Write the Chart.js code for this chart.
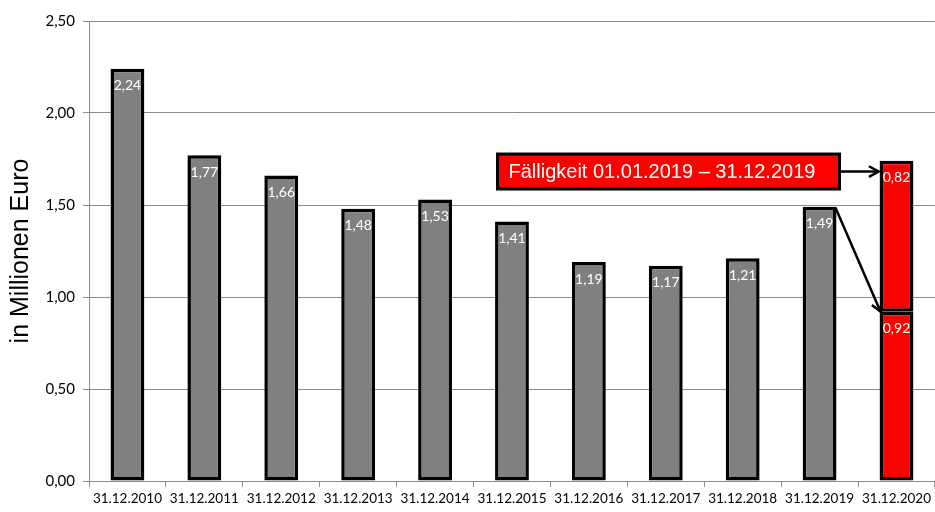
<!DOCTYPE html>
<html>
<head>
<meta charset="utf-8">
<script src="https://cdn.jsdelivr.net/npm/chart.js@4"></script>
<style>
  html, body { margin: 0; padding: 0; background: #fff; }
  #wrap { width: 935px; height: 512px; }
</style>
</head>
<body>
<div id="wrap"><canvas id="chart"></canvas></div>
<script>
// Stichtage (Kategorien)
const stichtage = ['31.12.2010', '31.12.2011', '31.12.2012', '31.12.2013', '31.12.2014',
    '31.12.2015', '31.12.2016', '31.12.2017', '31.12.2018', '31.12.2019', '31.12.2020'];
// Bestand in Millionen Euro (grau)
const bestand = [2.24, 1.77, 1.66, 1.48, 1.53, 1.41, 1.19, 1.17, 1.21, 1.49, null];
// letzter Balken, rot gestapelt
const rest2020 = [null, null, null, null, null, null, null, null, null, null, 0.92];
const faellig2019 = [null, null, null, null, null, null, null, null, null, null, 0.82];
const yTicks = [0, 0.5, 1, 1.5, 2, 2.5];
const hinweisText = 'Fälligkeit 01.01.2019 – 31.12.2019';

const fmt = v => v.toFixed(2).replace('.', ',');

// Werte weiss oben in den Balken
const wertePlugin = {
    id: 'werte',
    afterDatasetsDraw(chart) {
        const ctx = chart.ctx;
        ctx.save();
        ctx.fillStyle = '#fff';
        ctx.font = '14px Lato';
        ctx.textAlign = 'center';
        ctx.textBaseline = 'middle';
        chart.data.datasets.forEach((ds, i) => {
            chart.getDatasetMeta(i).data.forEach((bar, j) => {
                const v = ds.data[j];
                if (v == null) return;
                ctx.fillText(fmt(v), bar.x, bar.y + 17);
            });
        });
        ctx.restore();
    }
};

function pfeil(ctx, x1, y1, x2, y2) {
    const a = Math.atan2(y2 - y1, x2 - x1);
    const l = 11;
    ctx.beginPath();
    ctx.moveTo(x1, y1);
    ctx.lineTo(x2, y2);
    ctx.stroke();
    ctx.beginPath();
    ctx.moveTo(x2 - l * Math.cos(a - 0.5), y2 - l * Math.sin(a - 0.5));
    ctx.lineTo(x2, y2);
    ctx.lineTo(x2 - l * Math.cos(a + 0.5), y2 - l * Math.sin(a + 0.5));
    ctx.stroke();
}

// Hinweisbox mit Pfeilen
const hinweisPlugin = {
    id: 'hinweis',
    afterDatasetsDraw(chart) {
        const ctx = chart.ctx;
        const ys = chart.scales.y;
        const b19 = chart.getDatasetMeta(0).data[9];
        const unten = chart.getDatasetMeta(1).data[10];
        const oben = chart.getDatasetMeta(2).data[10];
        const right = b19.x + b19.width / 2 + 3;
        const left = right - 342;
        const top = ys.getPixelForValue(1.777);
        const bottom = ys.getPixelForValue(1.587);
        const mid = (top + bottom) / 2;
        ctx.save();
        ctx.fillStyle = '#ff0000';
        ctx.strokeStyle = '#000';
        ctx.lineWidth = 3;
        ctx.fillRect(left, top, right - left, bottom - top);
        ctx.strokeRect(left, top, right - left, bottom - top);
        ctx.fillStyle = '#fff';
        ctx.font = '20px "Liberation Sans"';
        ctx.textBaseline = 'middle';
        ctx.fillText(hinweisText, left + 11, mid + 1);
        ctx.lineWidth = 2.5;
        pfeil(ctx, right + 1, mid, oben.x - oben.width / 2 - 1, mid);
        pfeil(ctx, b19.x + b19.width / 2 - 1, b19.y + 1, unten.x - unten.width / 2 + 1, unten.y);
        ctx.restore();
    }
};

new Chart(document.getElementById('chart'), {
    type: 'bar',
    data: {
        labels: stichtage,
        datasets: [
            { label: 'Bestand', data: bestand, backgroundColor: '#808080' },
            { label: 'Rest', data: rest2020, backgroundColor: '#ff0000' },
            { label: 'Fällig 2019', data: faellig2019, backgroundColor: '#ff0000' }
        ].map(d => Object.assign(d, {
            borderColor: '#000',
            borderWidth: 3.5,
            borderSkipped: false,
            barPercentage: 0.44,
            categoryPercentage: 1
        }))
    },
    options: {
        responsive: true,
        maintainAspectRatio: false,
        animation: false,
        layout: { padding: { top: 21, right: 0, left: 0, bottom: 0 } },
        plugins: {
            legend: { display: false },
            tooltip: { enabled: false }
        },
        scales: {
            x: {
                stacked: true,
                grid: { display: true, drawOnChartArea: false, color: '#8c8c8c', tickLength: 6, offset: true },
                border: { color: '#8c8c8c' },
                ticks: { color: '#000', font: { family: 'Lato', size: 13.5 }, maxRotation: 0, autoSkip: false, padding: 4 },
                afterFit(s) { s.height = 31; }
            },
            y: {
                stacked: true,
                min: 0,
                max: 2.5,
                afterBuildTicks(s) { s.ticks = yTicks.map(v => ({ value: v })); },
                grid: { color: '#8c8c8c', tickLength: 6 },
                border: { color: '#8c8c8c' },
                ticks: { color: '#000', font: { family: 'Lato', size: 15 }, padding: 8, callback: v => fmt(v) },
                title: { display: true, text: 'in Millionen Euro', color: '#000', font: { family: 'Liberation Sans', size: 25 }, padding: { top: 6, bottom: 8 } },
                afterFit(s) { s.width = 89; }
            }
        }
    },
    plugins: [wertePlugin, hinweisPlugin]
});
</script>
</body>
</html>
